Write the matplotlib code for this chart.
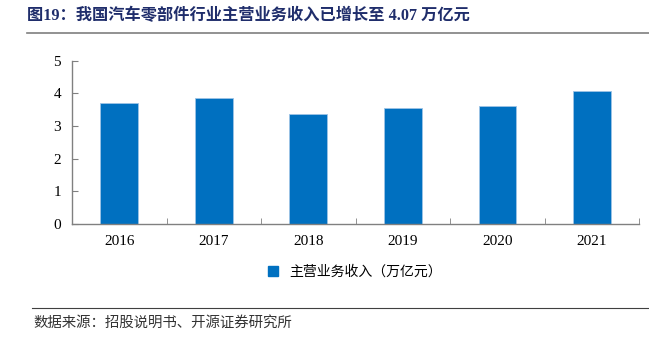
import numpy as np
import matplotlib.pyplot as plt
from matplotlib.lines import Line2D

plt.rcParams['font.family'] = ['Liberation Serif', 'Noto Sans CJK SC', 'DejaVu Sans']

years = ['2016', '2017', '2018', '2019', '2020', '2021']
revenue = [3.71, 3.87, 3.36, 3.57, 3.62, 4.07]

title = '图19：我国汽车零部件行业主营业务收入已增长至 4.07 万亿元'
series_name = '主营业务收入（万亿元）'
source = '数据来源：招股说明书、开源证券研究所'

bar_color = '#0070C0'
axis_color = '#808080'

fig = plt.figure(figsize=(6.49, 3.38), dpi=100)
ax = fig.add_axes([0.111, 0.337, 0.874, 0.483])

x = np.arange(len(years))
ax.bar(x, revenue, width=0.4, color=bar_color, edgecolor='#9DC3E6', linewidth=0.6)

ax.set_xlim(-0.5, len(years) - 0.5)
ax.set_ylim(0, 5)
ax.set_yticks(range(6))
ax.set_xticks(x)
ax.set_xticklabels(years)
ax.set_xticks(np.arange(-0.5, len(years), 1.0), minor=True)
ax.tick_params(axis='x', which='major', length=0, pad=8, labelsize=11)
ax.tick_params(axis='x', which='minor', direction='in', length=4, color=axis_color)
ax.tick_params(axis='y', direction='in', length=4, color=axis_color, labelsize=11, pad=8)

for s in ['top', 'right']:
    ax.spines[s].set_visible(False)
for s in ['left', 'bottom']:
    ax.spines[s].set_color(axis_color)
    ax.spines[s].set_linewidth(1.0)

handle = Line2D([], [], marker='s', linestyle='none', color=bar_color, markersize=7)
fig.legend([handle], [series_name], loc='center', bbox_to_anchor=(0.54, 0.195),
           frameon=False, fontsize=10, handletextpad=0.2)

fig.text(0.042, 0.952, title, fontsize=11.7, fontweight='bold', color='#1F2D6B', va='center')
fig.add_artist(Line2D([0.042, 1.0], [0.903, 0.903], color='#7F7F7F', linewidth=1.2))
fig.add_artist(Line2D([0.05, 1.0], [0.09, 0.09], color='#404040', linewidth=0.8))
fig.text(0.051, 0.045, source, fontsize=10.4, color='#333333', va='center')

fig.savefig('out.png', dpi=100)
